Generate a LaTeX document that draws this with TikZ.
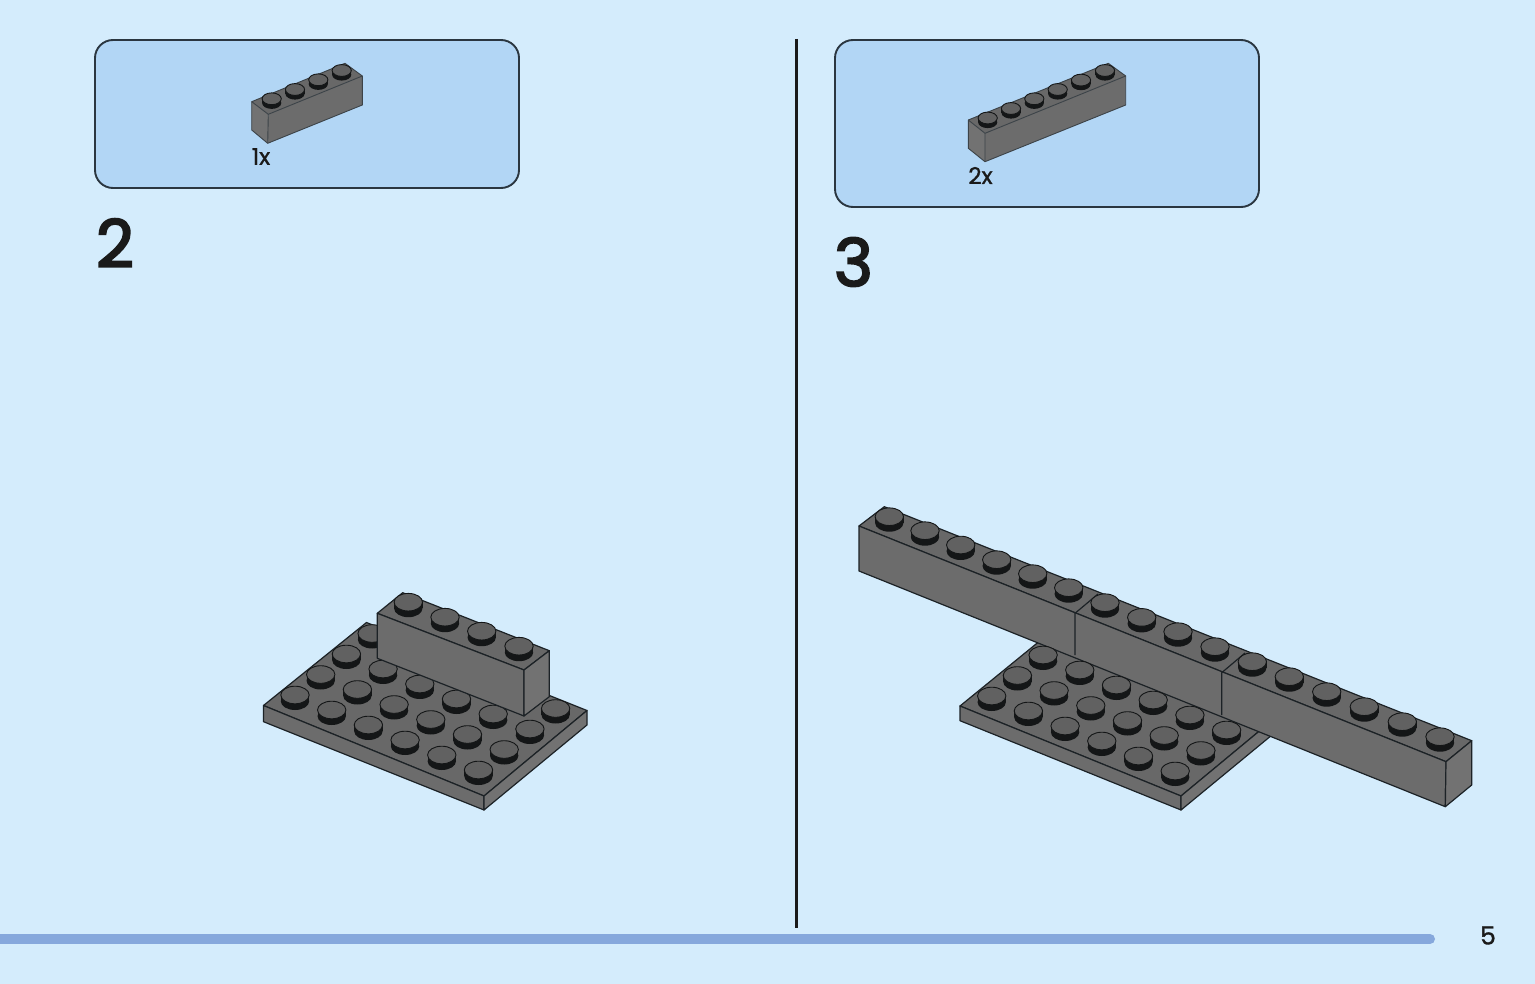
\documentclass[tikz,border=0pt]{standalone}
\usepackage{fontspec}
\setmainfont{Poppins}
\newfontfamily\heavyfont[FakeBold=1.2]{Poppins}
\newfontfamily\numfont[FakeBold=3]{Poppins}
\definecolor{pagebg}{HTML}{D4ECFC}
\definecolor{boxfill}{HTML}{B2D6F5}
\definecolor{boxline}{HTML}{2A3640}
\definecolor{barcol}{HTML}{86A8DC}
\definecolor{toptone}{HTML}{686868}
\definecolor{fronttone}{HTML}{6C6C6C}
\definecolor{sidetone}{HTML}{727272}
\definecolor{studtop}{HTML}{616161}
\definecolor{studside}{HTML}{141617}
\definecolor{edge}{HTML}{1C2226}
\definecolor{softedge}{HTML}{3C4348}
\definecolor{ink}{HTML}{1A1A1A}
\tikzset{
  panel/.style={draw=boxline,line width=1.9pt,fill=boxfill,rounded corners=18pt},
  face/.style={fill=#1,draw=edge,line width=1.2pt,line join=round},
  stepnum/.style={font=\numfont\fontsize{66}{66}\selectfont,text=ink,inner sep=0pt,anchor=center},
  smalltxt/.style={font=\heavyfont\fontsize{23}{23}\selectfont,text=ink,inner sep=0pt,anchor=center},
  softline/.style={softedge,line width=0.9pt,line join=round},
}
% x, y, rx, ry, height
\newcommand{\legostud}[5]{%
  \fill[studside] (#1-#3,#2) rectangle (#1+#3,#2+#5);
  \fill[studside] (#1,#2+#5) ellipse [x radius=#3pt,y radius=#4pt];
  \filldraw[fill=studtop,draw=studside,line width=0.9pt] (#1,#2) ellipse [x radius=#3pt,y radius=#4pt];
}
\newcommand{\bigstud}[2]{\legostud{#1}{#2}{14.2}{8.8}{6.2}}
\newcommand{\smallstud}[2]{\legostud{#1}{#2}{9.6}{5.9}{4.2}}
\begin{document}
\begin{tikzpicture}[x=1pt,y=-1pt]
\useasboundingbox (0,0) rectangle (1535,984);
\fill[pagebg] (0,0) rectangle (1535,984);

% panels
\draw[panel] (95,40) rectangle (519,188);
\draw[panel] (835,40) rectangle (1259,207);

% divider and footer
\coordinate (divtop) at (796,39);
\coordinate (divbot) at (796,928);
\draw[ink,line width=3pt] (divtop) -- (divbot);
\coordinate (barl) at (-10,939);
\coordinate (barr) at (1430,939);
\draw[barcol,line width=10pt,line cap=round] (barl) -- (barr);

% texts
\node[stepnum] (stepA) at (115,243) {2};
\node[stepnum] (stepB) at (853.5,262) {3};
\node[smalltxt] (cntA) at (261,156.5) {1x};
\node[smalltxt] (cntB) at (980.5,175.5) {2x};
\node[font=\heavyfont\fontsize{25}{25}\selectfont,text=ink,inner sep=0pt] (pageno) at (1488,935.5) {5};

% part 1x
\fill[toptone] (251.7,101.7) -- (345,63.3) -- (362.3,76) -- (268.3,114.3) -- cycle;
\fill[sidetone] (251.7,101.7) -- (268.3,114.3) -- (267.7,143.3) -- (251.7,130) -- cycle;
\fill[fronttone] (268.3,114.3) -- (362.3,76) -- (362.3,105) -- (267.7,143.3) -- cycle;
\draw[softline] (251.7,101.7) -- (345,63.3) -- (362.3,76) -- (362.3,105) -- (267.7,143.3) -- (251.7,130) -- cycle;
\draw[softline] (251.7,101.7) -- (268.3,114.3) -- (362.3,76) (268.3,114.3) -- (267.7,143.3);
\smallstud{271.7}{98.8}\smallstud{295}{89.5}\smallstud{318.3}{79.8}\smallstud{341.7}{70.5}

% part 2x
\fill[toptone] (968.3,120) -- (1108.3,63.3) -- (1125.7,76) -- (985,133.3) -- cycle;
\fill[sidetone] (968.3,120) -- (985,133.3) -- (985,161.7) -- (968.3,148.3) -- cycle;
\fill[fronttone] (985,133.3) -- (1125.7,76) -- (1125.7,105) -- (985,161.7) -- cycle;
\draw[softline] (968.3,120) -- (1108.3,63.3) -- (1125.7,76) -- (1125.7,105) -- (985,161.7) -- (968.3,148.3) -- cycle;
\draw[softline] (968.3,120) -- (985,133.3) -- (1125.7,76) (985,133.3) -- (985,161.7);
\smallstud{987.7}{118}\smallstud{1011}{108.5}\smallstud{1034.3}{98.8}\smallstud{1057.7}{89.5}\smallstud{1081}{80.1}\smallstud{1105}{70.5}

% model of step 2: plate
\draw[face=toptone] (263.5,705.5) -- (366.5,622.5) -- (587,710.5) -- (484,796) -- cycle;
\draw[face=fronttone] (263.5,705.5) -- (484,796) -- (484,810) -- (263.5,721.7) -- cycle;
\draw[face=sidetone] (484,796) -- (587,710.5) -- (587,725) -- (484,810) -- cycle;
\foreach \j in {0,1,2,3}{
  \foreach \i in {0,...,5}{
    \pgfmathsetmacro{\sx}{295+36.7*\i+25.7*\j}
    \pgfmathsetmacro{\sy}{695+15.0*\i-20.5*\j}
    \bigstud{\sx}{\sy}
  }
}
% model of step 2: brick
\draw[face=toptone] (377.3,613.3) -- (402.7,592.7) -- (549.3,650.7) -- (524,670) -- cycle;
\draw[face=fronttone] (377.3,613.3) -- (524,670) -- (524,716) -- (377.3,658.3) -- cycle;
\draw[face=sidetone] (524,670) -- (549.3,650.7) -- (549.3,696.7) -- (524,716) -- cycle;
\bigstud{408.3}{602.2}\bigstud{445}{617.2}\bigstud{481.7}{631.2}\bigstud{519}{646.2}

% model of step 3: plate
\draw[face=toptone] (960,706) -- (1063,622) -- (1283.5,711) -- (1181,796) -- cycle;
\draw[face=fronttone] (960,706) -- (1181,796) -- (1181,810) -- (960,720.7) -- cycle;
\draw[face=sidetone] (1181,796) -- (1283.5,711) -- (1283.5,725.5) -- (1181,810) -- cycle;

% model of step 3: long bar
\draw[face=toptone] (859,526) -- (884.3,506.7) -- (1471.7,740.7) -- (1446,761.7) -- cycle;
\draw[face=fronttone] (859,526) -- (1446,761.7) -- (1445.3,806.7) -- (859,571) -- cycle;
\draw[face=sidetone] (1446,761.7) -- (1471.7,740.7) -- (1471.7,785) -- (1445.3,806.7) -- cycle;
\draw[edge,line width=1.2pt] (1098,594) -- (1075,613.3) -- (1075,655);
\draw[edge,line width=1.2pt] (1245,653) -- (1221.7,672.7) -- (1221.7,715);
\foreach \sx/\sy in {889.3/516.7,925/530.7,960.7/545,996.7/559.7,1032.7/573.7,1068.7/587.7,1105/602.7,1141.7/617.4,1178/631.7,1215/646.7,1252.3/661.7,1289.3/676.7,1326.7/691.7,1364.3/706.7,1402.3/721.7,1440/736.7}{
  \bigstud{\sx}{\sy}
}
% plate studs in front of the bar
\foreach \j in {0,1,2}{
  \foreach \i in {0,...,5}{
    \pgfmathsetmacro{\sx}{991.7+36.7*\i+25.7*\j}
    \pgfmathsetmacro{\sy}{696+15.0*\i-20.5*\j}
    \bigstud{\sx}{\sy}
  }
}
\end{tikzpicture}
\end{document}
